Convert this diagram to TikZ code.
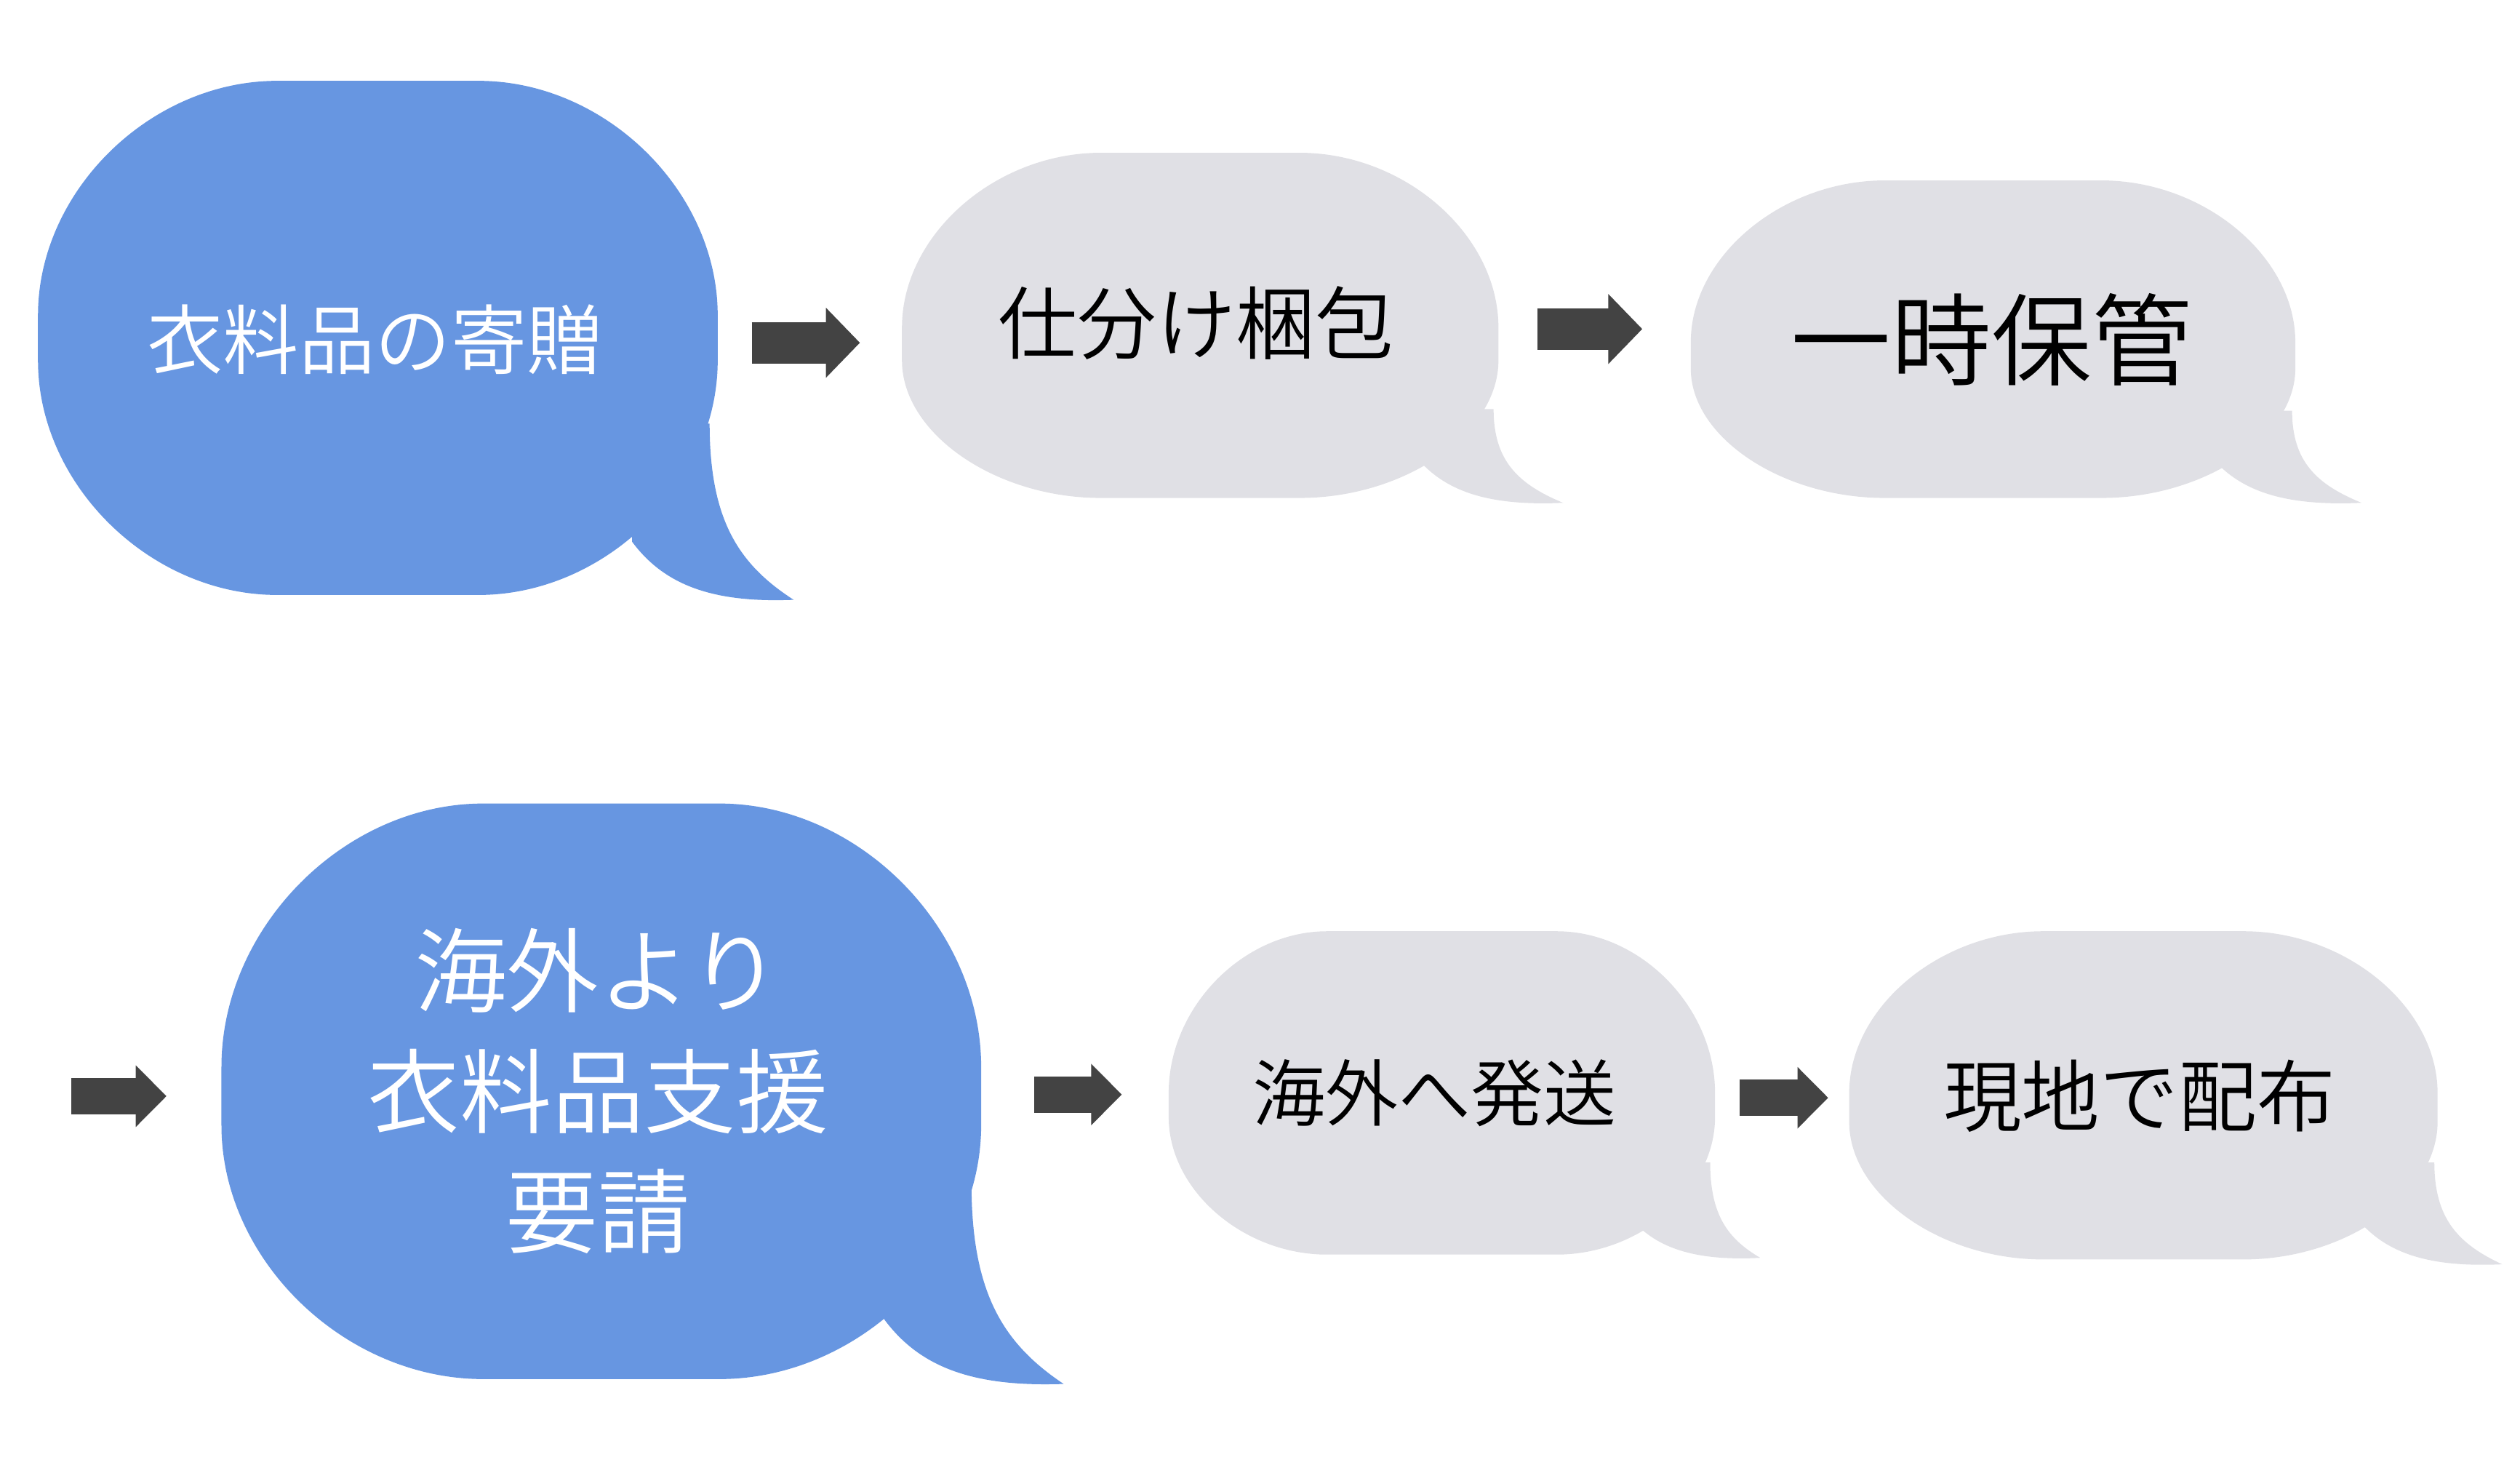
\documentclass[tikz,border=0pt]{standalone}
\usepackage{fontspec}
\setmainfont{Noto Sans CJK JP DemiLight}
\usetikzlibrary{arrows.meta}
\definecolor{bubbleblue}{HTML}{6796E1}
\definecolor{bubblegray}{HTML}{E0E0E5}
\definecolor{arrowgray}{HTML}{434343}
% #1 style, #2 x0, #3 y0, #4 x1, #5 y1, #6 rx, #7 ry top, #8 ry bottom
\newcommand{\bubblebody}[8]{%
  \fill[#1] (#2+#6,#3) -- (#4-#6,#3)
    .. controls (#4-0.47*#6,#3) and (#4,#3+0.47*#7) .. (#4,#3+#7)
    -- (#4,#5-#8)
    .. controls (#4,#5-0.47*#8) and (#4-0.47*#6,#5) .. (#4-#6,#5)
    -- (#2+#6,#5)
    .. controls (#2+0.47*#6,#5) and (#2,#5-0.47*#8) .. (#2,#5-#8)
    -- (#2,#3+#7)
    .. controls (#2,#3+0.47*#7) and (#2+0.47*#6,#3) .. (#2+#6,#3) -- cycle;}
% #1 style, K=(#2,#3), T=(#4,#5), I=(#6,#7)
\newcommand{\bubbletail}[7]{%
  \fill[#1] (#2,#3)
    .. controls (#2,#3+0.55*#5-0.55*#3) and (#2+0.35*#4-0.35*#2,#5-0.2*#5+0.2*#3) .. (#4,#5)
    .. controls (#4-0.5*#4+0.5*#6,#5+2) and (#6+0.2*#4-0.2*#6,#7+0.75*#5-0.75*#7) .. (#6,#7)
    -- (#6,#3) -- cycle;}
\tikzset{
  blue bubble/.style={fill=bubbleblue},
  gray bubble/.style={fill=bubblegray},
  wtext/.style={text=white, inner sep=0pt, align=center},
  btext/.style={text=black, inner sep=0pt, align=center},
  bigarrow/.style={draw=arrowgray, line width=25.5pt, -{Triangle[width=42pt,length=21pt]}},
  smallarrow/.style={draw=arrowgray, line width=22.5pt, -{Triangle[width=37pt,length=19pt]}},
}
\begin{document}
\begin{tikzpicture}[x=1pt,y=-1pt]
\useasboundingbox (0,0) rectangle (1559,906);
% row 1
\bubblebody{blue bubble}{23.5}{50}{444}{368}{148}{145}{145}
\bubbletail{blue bubble}{439}{262}{491}{371}{391}{335}
\node[wtext, font=\fontsize{47}{56}\selectfont] (t1) at (232,210) {衣料品の寄贈};

\bubblebody{gray bubble}{558}{94.5}{927}{308}{123}{108}{85}
\bubbletail{gray bubble}{924}{253}{967}{311}{880}{287}
\node[btext, font=\fontsize{49}{58}\selectfont] (t2) at (740,200) {仕分け梱包};

\bubblebody{gray bubble}{1046}{111.6}{1420}{308}{120}{100}{80}
\bubbletail{gray bubble}{1418}{254}{1461}{311}{1373}{288}
\node[btext, font=\fontsize{62}{72}\selectfont] (t3) at (1232,210) {一時保管};

% row 2
\bubblebody{blue bubble}{137}{497}{607}{853}{162}{163}{157}
\bubbletail{blue bubble}{601}{732}{658}{856}{547}{816}
\node[wtext, font=\fontsize{57}{74.5}\selectfont] (t4) at (370,675) {海外より\\衣料品支援\\要請};

\bubblebody{gray bubble}{723}{576}{1061}{776}{98}{100}{85}
\bubbletail{gray bubble}{1058}{719}{1089}{778}{1012}{757}
\node[btext, font=\fontsize{45}{54}\selectfont] (t5) at (887.5,676) {海外へ発送};

\bubblebody{gray bubble}{1144}{576}{1508}{779}{120}{100}{85}
\bubbletail{gray bubble}{1506}{719}{1548}{782}{1462}{758}
\node[btext, font=\fontsize{48.5}{58}\selectfont] (t6) at (1323.5,678) {現地で配布};

% arrows
\coordinate (a1s) at (465,212);  \coordinate (a1e) at (532,212);
\coordinate (a2s) at (951,203.5); \coordinate (a2e) at (1016,203.5);
\coordinate (a3s) at (44,678);   \coordinate (a3e) at (103,678);
\coordinate (a4s) at (640,677);  \coordinate (a4e) at (694,677);
\coordinate (a5s) at (1076,679); \coordinate (a5e) at (1131,679);
\draw[bigarrow] (a1s) -- (a1e);
\draw[bigarrow] (a2s) -- (a2e);
\draw[smallarrow] (a3s) -- (a3e);
\draw[smallarrow] (a4s) -- (a4e);
\draw[smallarrow] (a5s) -- (a5e);
\end{tikzpicture}
\end{document}
